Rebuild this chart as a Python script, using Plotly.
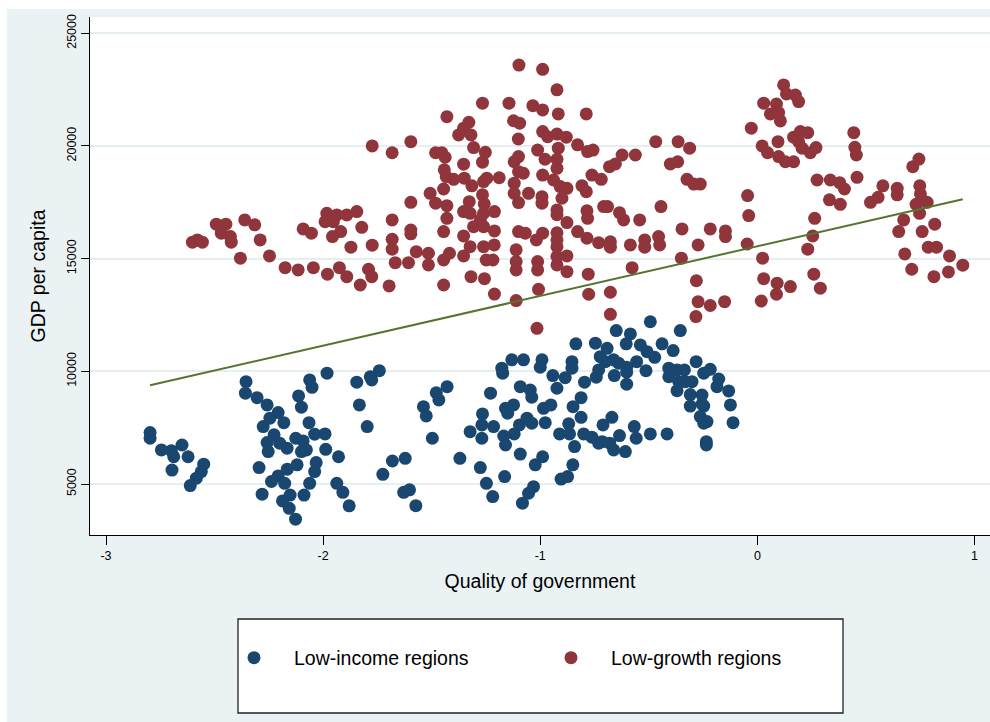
import plotly.graph_objects as go

# Quality of government index (x) and GDP per capita (y) by region group
low_income_x = [
    -2.797, -2.797, -2.745, -2.699, -2.650, -2.688, -2.622, -2.696, -2.550, -2.561,
    -2.584, -2.612, -2.355, -2.358, -2.304, -2.258, -2.207, -2.245, -2.276, -2.181,
    -2.226, -2.258, -2.253, -2.200, -2.166, -2.126, -2.092, -2.100, -2.077, -2.295,
    -2.165, -2.120, -2.207, -2.238, -2.177, -2.152, -2.187, -2.156, -2.127, -2.281,
    -2.088, -2.062, -2.039, -2.062, -2.051, -2.113, -2.100, -2.065, -2.039,
    -1.982, -1.991, -1.988, -1.929, -2.032, -1.937, -1.909, -1.880, -1.845, -1.783,
    -1.776, -1.741, -1.833, -1.797, -1.681, -1.622, -1.725, -1.629, -1.602, -1.573,
    -1.479, -1.467, -1.429, -1.538, -1.525, -1.497, -1.370, -1.229, -1.266, -1.323,
    -1.269, -1.215, -1.269, -1.276, -1.248, -1.219, -1.164, -1.092, -1.177, -1.173,
    -1.131, -1.077, -1.092, -1.046, -1.039, -1.160, -1.123, -1.150, -1.096, -1.061,
    -1.039, -1.120, -1.168, -1.160, -1.023, -1.031, -1.054, -1.082,
    -0.493, -0.355, -0.650, -0.585, -0.836, -0.746, -0.692, -0.604, -0.539, -0.508,
    -0.473, -0.439, -0.388, -0.724, -0.700, -0.662, -0.639, -0.602, -0.556, -0.513,
    -0.602, -0.659, -0.602, -0.731, -0.742, -0.796, -0.854, -0.854, -0.885, -0.942,
    -0.992, -1.000, -0.923, -0.812, -0.849, -0.951, -0.985, -0.977, -0.812, -0.869,
    -0.911, -0.865, -0.842, -0.800, -0.762, -0.731, -0.715, -0.680, -0.662, -0.608,
    -0.711, -0.670, -0.635, -0.567, -0.558, -0.493, -0.416, -0.989, -0.850, -0.904,
    -0.874, -0.408, -0.408, -0.370, -0.336, -0.362, -0.370, -0.332, -0.301, -0.282,
    -0.247, -0.217, -0.178, -0.186, -0.132, -0.124, -0.112, -0.309, -0.309, -0.255,
    -0.255, -0.247, -0.263, -0.247, -0.232, -0.235, -0.235,
]
low_income_y = [
    7280, 7030, 6510, 6480, 6730, 6210, 6210, 5620, 5880, 5550,
    5260, 4930, 9540, 9030, 8830, 8510, 8170, 7920, 7550, 7720,
    7180, 6840, 6440, 6810, 6590, 7030, 6910, 6440, 6510, 5730,
    5660, 5850, 5360, 5110, 5030, 4510, 4250, 3920, 3440, 4550,
    4510, 5030, 5550, 9620, 9290, 8910, 8410, 7720, 7210,
    9920, 7220, 6540, 6210, 5950, 5030, 4630, 4030, 9520, 9760,
    9620, 10030, 8510, 7550, 6020, 6140, 5430, 4630, 4740, 4040,
    9050, 8730, 9320, 8430, 8020, 7030, 6140, 9030, 8110, 7320,
    7620, 7550, 7030, 5730, 5030, 4440, 5330, 6330, 10140, 9920,
    10510, 10510, 9320, 9170, 8850, 8360, 8510, 8140, 7620, 7920,
    7700, 7220, 7130, 6730, 5850, 4880, 4590, 4150,
    12200, 11810, 11810, 11660, 11220, 11250, 11020, 11220, 11170, 10870,
    10620, 11220, 10920, 10650, 10430, 10510, 10360, 10180, 10430, 10030,
    9960, 9810, 9430, 10060, 9740, 9520, 10430, 10140, 9720, 9810,
    10510, 10180, 9250, 8830, 8430, 8510, 8360, 7720, 7960, 7670,
    7220, 7220, 6660, 7220, 7080, 6810, 6880, 6810, 6510, 6440,
    7620, 7960, 7150, 7550, 7030, 7220, 7220, 6210, 5850, 5220,
    5330, 10140, 9760, 10060, 10060, 9540, 9140, 9540, 9540, 10430,
    9920, 10090, 9660, 9320, 9130, 8510, 7720, 8970, 8460, 8950,
    8550, 8460, 7990, 7700, 7770, 6880, 6730,
]

low_growth_x = [
    -2.602, -2.579, -2.556, -2.492, -2.448, -2.469, -2.427, -2.423, -2.381, -2.361,
    -2.315, -2.290, -2.247, -2.175, -2.115, -2.045, -2.092, -2.054,
    -1.098, -1.266, -1.144, -1.034, -1.430, -1.329, -1.353, -1.376, -1.319, -1.123,
    -1.095, -1.101, -1.774, -1.682, -1.596, -1.482, -1.453, -1.438, -1.307, -1.253,
    -1.266, -1.353, -1.442, -1.433, -1.399, -1.350, -1.315, -1.261, -1.246, -1.189,
    -1.445, -1.507, -1.596, -1.482, -1.430, -1.430, -1.327, -1.353, -1.323, -1.266,
    -1.258, -1.261, -1.211, -1.276, -1.307, -1.261, -1.211, -1.353, -1.323, -1.261,
    -1.212, -1.249, -1.218, -1.353, -1.445, -1.445, -1.418, -1.515, -1.515, -1.571,
    -1.607, -1.668, -1.682, -1.682, -1.682, -1.596, -1.596, -1.774, -1.822, -1.845,
    -1.891, -1.937, -1.983, -1.991, -1.953, -1.919, -1.957, -1.872, -1.980, -1.925,
    -1.891, -1.791, -1.776, -1.829, -1.696, -1.445, -1.319, -1.257, -1.111, -1.111,
    -1.111, -1.100, -1.069, -1.120, -1.100, -1.100, -1.078, -1.120, -1.120, -1.100,
    -1.054, -1.211, -1.111,
    -0.989, -0.923, -0.989, -0.917, -0.788, -0.989, -0.966, -0.923, -0.880, -1.012,
    -0.917, -0.828, -0.782, -0.757, -0.978, -0.923, -0.923, -0.989, -0.939, -0.908,
    -0.877, -0.900, -0.923, -0.923, -0.877, -0.808, -0.788, -0.762, -0.719, -0.681,
    -0.654, -0.623, -0.562, -0.468, -0.365, -0.312, -0.401, -0.367, -0.324, -0.293,
    -0.263, -0.028, -0.045, -0.040, -0.047, -0.785, -0.782, -0.708, -0.690, -0.635,
    -0.616, -0.542, -0.444, -0.347, -0.217, -0.147, -0.147, -0.273, -0.350, -0.281,
    -0.577, -0.779, -1.012, -1.012, -0.877, -0.877, -0.923, -0.923, -0.923, -0.923,
    -0.923, -0.989, -1.018, -0.828, -0.785, -0.731, -0.677, -0.677, -0.585, -0.519,
    -0.519, -0.455, -0.450, -0.992, -0.992,
    -1.008, -1.015, -0.777, -0.677, -0.677, -0.273, -0.217, -0.151, -0.283,
    0.121, 0.134, 0.175, 0.190, 0.029, 0.088, 0.060, 0.098, 0.106, 0.022,
    0.047, 0.095, 0.098, 0.129, 0.167, 0.167, 0.198, 0.232, 0.190, 0.206,
    0.244, 0.270, 0.444, 0.449, 0.456, 0.459, 0.275, 0.336, 0.379, 0.401,
    0.332, 0.382, 0.264, 0.255, 0.232, 0.024, 0.029, 0.091, 0.152, 0.260,
    0.290, 0.521, 0.556, 0.578, 0.644, 0.644, 0.716, 0.744, 0.748, 0.751,
    0.731, 0.782, 0.747, 0.674, 0.651, 0.759, 0.817, 0.679, 0.787, 0.825,
    0.885, 0.711, 0.813, 0.880, 0.946, 0.088, 0.018,
]
low_growth_y = [
    15730, 15830, 15730, 16530, 16530, 16130, 15980, 15730, 15020, 16720,
    16500, 15830, 15120, 14600, 14500, 14600, 16320, 16130,
    23590, 21900, 21900, 21790, 21300, 21050, 20790, 20490, 20490, 21120,
    21010, 20310, 20000, 19700, 20190, 19700, 19700, 19500, 19930, 19720,
    19280, 19190, 18940, 18640, 18520, 18570, 18230, 18420, 18570, 18590,
    18090, 17900, 17500, 17460, 17350, 16790, 17530, 17090, 17010, 17830,
    17430, 17010, 17090, 16720, 16420, 16420, 16230, 16010, 15530, 15530,
    15610, 14940, 14940, 15120, 16200, 14940, 15240, 15240, 14720, 15310,
    14820, 14820, 15860, 15420, 16720, 16270, 16100, 15600, 16390, 17090,
    16940, 16940, 17010, 16640, 16640, 16200, 15980, 15510, 14310, 14600,
    14200, 14530, 14200, 13830, 13790, 13830, 14200, 14110, 15390, 14870,
    14500, 16200, 16130, 19300, 19530, 18860, 18790, 18350, 17900, 17490,
    17900, 13430, 13140,
    23400, 22490, 21600, 21420, 21420, 20640, 20410, 20530, 20390, 19820,
    19900, 20050, 19750, 19820, 19410, 19410, 19010, 18710, 18490, 18200,
    18120, 17680, 17160, 16950, 16600, 18240, 17970, 18710, 18520, 19080,
    19200, 19600, 19600, 20190, 20190, 19900, 19200, 19300, 18520, 18310,
    18310, 20790, 17800, 16910, 15650, 17120, 16790, 17310, 17310, 17040,
    16720, 16720, 17310, 16320, 16320, 16230, 15980, 15610, 15020, 14020,
    14600, 14310, 14870, 14500, 14420, 15120, 15090, 15530, 15830, 16150,
    14720, 16130, 15830, 16200, 15910, 15710, 15750, 15510, 15610, 15830,
    15510, 15980, 15610, 17750, 17460,
    13640, 11910, 13420, 13510, 12530, 13090, 12920, 13090, 12430,
    22710, 22310, 22260, 21970, 21900, 21860, 21420, 21480, 21110, 20000,
    19700, 20190, 19530, 19300, 19300, 20390, 20640, 20590, 20190, 19900,
    19700, 19930, 20590, 19940, 19600, 18610, 18490, 18490, 18370, 18090,
    17610, 17410, 16790, 16010, 15420, 15020, 14110, 13910, 13760, 14310,
    13690, 17500, 17720, 18230, 18120, 17830, 19080, 19420, 18230, 17870,
    17410, 17500, 17010, 16720, 16200, 16200, 16530, 15210, 15510, 15510,
    15120, 14530, 14200, 14410, 14710, 13420, 13120,
]

# Linear fit over both groups
fit_intercept = 15550
fit_slope = 2205

x_ticks = [-3, -2, -1, 0, 1]
y_ticks = [5000, 10000, 15000, 20000, 25000]

all_x = low_income_x + low_growth_x
fit_x = [min(all_x), max(all_x)]
fit_y = [fit_intercept + fit_slope * v for v in fit_x]

NAVY = "#1A476F"
MAROON = "#90353B"
GREEN = "#55752F"
BLUISH = "#EAF2F3"
FONT = "Liberation Sans, Arial, sans-serif"

fig = go.Figure()
fig.add_trace(go.Scatter(
    x=low_income_x, y=low_income_y, mode="markers", name="Low-income regions",
    marker=dict(color=NAVY, size=13, line=dict(width=0)),
))
fig.add_trace(go.Scatter(
    x=low_growth_x, y=low_growth_y, mode="markers", name="Low-growth regions",
    marker=dict(color=MAROON, size=13, line=dict(width=0)),
))
fig.add_trace(go.Scatter(
    x=fit_x, y=fit_y, mode="lines", showlegend=False,
    line=dict(color=GREEN, width=2),
))

L, T, B = 90, 17, 187
W, H = 990, 722
PW, PH = W - L, H - T - B


def px_x(p):
    return (p - L) / PW


def px_y(p):
    return (H - B - p) / PH


shapes = [
    # thin white frame around the graph region
    dict(type="rect", xref="paper", yref="paper", x0=px_x(0), x1=px_x(W), y0=px_y(0), y1=px_y(9),
         fillcolor="white", line=dict(width=0), layer="below"),
    dict(type="rect", xref="paper", yref="paper", x0=px_x(0), x1=px_x(7), y0=px_y(H), y1=px_y(0),
         fillcolor="white", line=dict(width=0), layer="below"),
    # legend frame
    dict(type="rect", xref="paper", yref="paper", x0=px_x(238), x1=px_x(843), y0=px_y(713), y1=px_y(619),
         fillcolor="white", line=dict(color="#222222", width=1.3), layer="below"),
]

fig.update_layout(
    width=W, height=H,
    margin=dict(l=L, r=0, t=T, b=B, pad=0),
    paper_bgcolor=BLUISH, plot_bgcolor="white",
    font=dict(family=FONT, color="black"),
    shapes=shapes,
    showlegend=True,
    legend=dict(
        orientation="h", x=px_x(214), y=px_y(658), xanchor="left", yanchor="middle",
        bgcolor="rgba(0,0,0,0)", borderwidth=0,
        font=dict(size=19.5, family=FONT, color="black"),
        itemwidth=70, entrywidth=232, entrywidthmode="pixels",
    ),
    xaxis=dict(
        range=[-3.0737, 1.0714], tickvals=x_ticks, ticktext=[str(v) for v in x_ticks],
        showgrid=False, zeroline=False, showline=True, linecolor="black", linewidth=1.3,
        ticks="outside", ticklen=9, tickwidth=1.2, tickcolor="black",
        tickfont=dict(size=12.5, family=FONT, color="black"),
        title=dict(text="Quality of government", font=dict(size=19.5, family=FONT, color="black"), standoff=12),
    ),
    yaxis=dict(
        range=[2737, 25723], tickvals=y_ticks, ticktext=[str(v) for v in y_ticks],
        showgrid=True, gridcolor="#E6EFF0", gridwidth=1.6, zeroline=False,
        showline=True, linecolor="black", linewidth=1.3,
        ticks="outside", ticklen=8, tickwidth=1.2, tickcolor="black", tickangle=-90,
        tickfont=dict(size=12.5, family=FONT, color="black"),
        title=dict(text="GDP per capita", font=dict(size=19.5, family=FONT, color="black"), standoff=14),
    ),
)

fig.write_html("out.html")
